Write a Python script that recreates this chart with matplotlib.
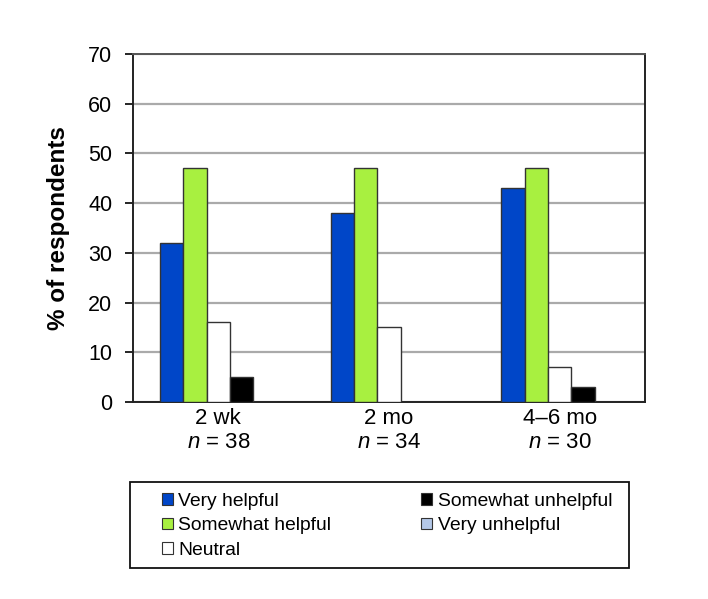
import numpy as np
import matplotlib.pyplot as plt
from matplotlib.patches import Rectangle

plt.rcParams['font.family'] = ['Liberation Sans', 'DejaVu Sans']
plt.rcParams['mathtext.fontset'] = 'custom'
plt.rcParams['mathtext.it'] = 'Liberation Sans:italic'
plt.rcParams['mathtext.rm'] = 'Liberation Sans'

periods = ['2 wk', '2 mo', '4\u20136 mo']
n_resp = [38, 34, 30]
categories = ['Very helpful', 'Somewhat helpful', 'Neutral',
              'Somewhat unhelpful', 'Very unhelpful']
values = {
    'Very helpful': [32, 38, 43],
    'Somewhat helpful': [47, 47, 47],
    'Neutral': [16, 15, 7],
    'Somewhat unhelpful': [5, 0, 3],
    'Very unhelpful': [0, 0, 0],
}
colors = ['#0046c8', '#a8f040', '#ffffff', '#000000', '#b4c8e8']

fig = plt.figure(figsize=(7.08, 5.99), dpi=100)
ax = fig.add_axes([133/708, 1-402/599, (645-133)/708, (402-54)/599])

x = np.arange(len(periods))
w = 0.137
for i, cat in enumerate(categories):
    ax.bar(x + (i - 2) * w, values[cat], width=w, color=colors[i],
           edgecolor='#333333', linewidth=1.0, label=cat, zorder=3)

ax.set_xlim(-0.5, 2.5)
ax.set_ylim(0, 70)
ax.set_yticks(range(0, 71, 10))
ax.yaxis.grid(True, color='#aaaaaa', linewidth=1.6, zorder=0)
ax.set_axisbelow(True)
ax.set_xticks(x)
ax.set_xticklabels([f'{p}\n$n$ = {n}' for p, n in zip(periods, n_resp)],
                   fontsize=16, linespacing=1.2)
ax.tick_params(axis='x', length=0, pad=4)
ax.tick_params(axis='y', length=6, width=1.2, labelsize=15.5, pad=9,
               direction='out')
for s in ax.spines.values():
    s.set_color('#222222')
    s.set_linewidth(1.4)
ax.spines['top'].set_color('#555555')
ax.set_ylabel('% of respondents', fontsize=17.5, fontweight='bold',
              labelpad=13)

# legend box
fig.patches.append(Rectangle((130/708, 1-568/599), 499/708, 86/599,
                             transform=fig.transFigure, fill=False,
                             edgecolor='#111111', linewidth=1.3))
leg = fig.legend(loc='upper left', ncol=2,
                 bbox_to_anchor=(162/708, 1-493/599),
                 fontsize=13.9, frameon=False,
                 handlelength=0.55, handleheight=0.55, handletextpad=0.3,
                 labelspacing=0.38, borderpad=0, borderaxespad=0,
                 columnspacing=4.65)
for h in leg.legend_handles:
    h.set_linewidth(0.8)

plt.savefig('out.png', dpi=100)
